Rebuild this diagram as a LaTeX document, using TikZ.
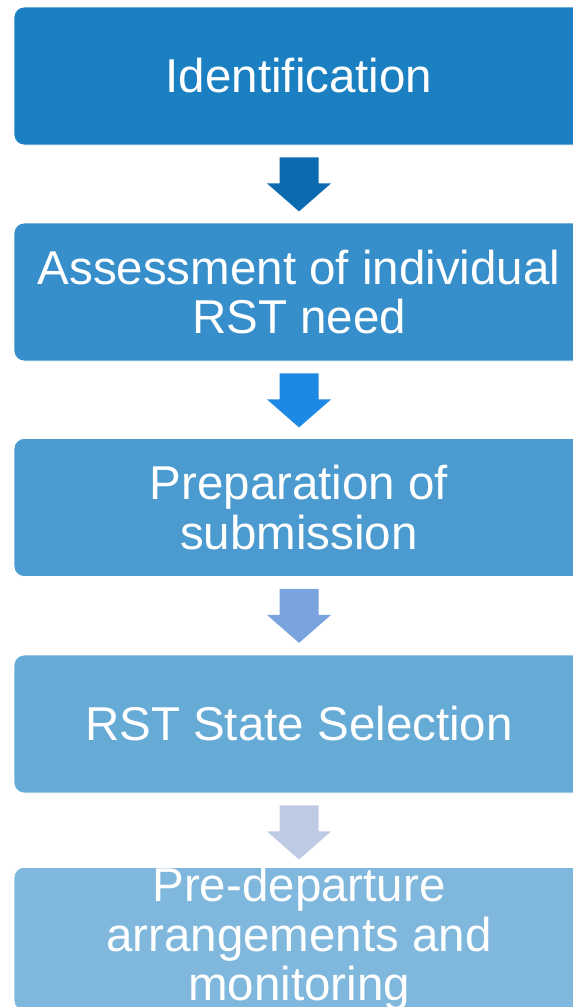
\documentclass[tikz,border=0pt]{standalone}
\usepackage{fontspec}
\setmainfont{Liberation Sans}
\usetikzlibrary{calc}
\definecolor{boxA}{RGB}{27,128,193}
\definecolor{boxB}{RGB}{54,142,202}
\definecolor{boxC}{RGB}{75,155,208}
\definecolor{boxD}{RGB}{102,171,214}
\definecolor{boxE}{RGB}{128,183,221}
\definecolor{arrA}{RGB}{12,106,177}
\definecolor{arrB}{RGB}{30,136,229}
\definecolor{arrC}{RGB}{122,164,222}
\definecolor{arrD}{RGB}{190,202,227}
\newcommand\blockarr[2]{%
  \fill[#2] (#1) ++(-19.5,0) -- ++(39,0) -- ++(0,26) -- ++(12.5,0)
    -- ++(-32,28) -- ++(-32,-28) -- ++(12.5,0) -- cycle;}
\begin{document}
\begin{tikzpicture}[x=1pt,y=-1pt,
  stepbox/.style={rectangle, rounded corners=10pt, minimum width=570pt,
    minimum height=138pt, text=white, align=center, inner sep=0pt,
    font=\fontsize{47.5}{49.5}\selectfont, draw=white, line width=0.8pt}]
\useasboundingbox (0,0) rectangle (573,1007);
\clip (0,0) rectangle (573,1007);
\node[stepbox, fill=boxA] (b1) at (299,76) {Identification};
\node[stepbox, fill=boxB] (b2) at (299,292) {Assessment of individual\\RST need};
\node[stepbox, fill=boxC] (b3) at (299,507.5) {Preparation of\\submission};
\node[stepbox, fill=boxD] (b4) at (299,724) {RST State Selection};
\node[stepbox, fill=boxE] (b5) at (299,939)
  {Pre-departure\\arrangements and\\monitoring};
\coordinate (a1) at ($(b1.south)+(0,12)$);
\coordinate (a2) at ($(b2.south)+(0,12)$);
\coordinate (a3) at ($(b3.south)+(0,12)$);
\coordinate (a4) at ($(b4.south)+(0,12)$);
\blockarr{a1}{arrA}
\blockarr{a2}{arrB}
\blockarr{a3}{arrC}
\blockarr{a4}{arrD}
\end{tikzpicture}
\end{document}
